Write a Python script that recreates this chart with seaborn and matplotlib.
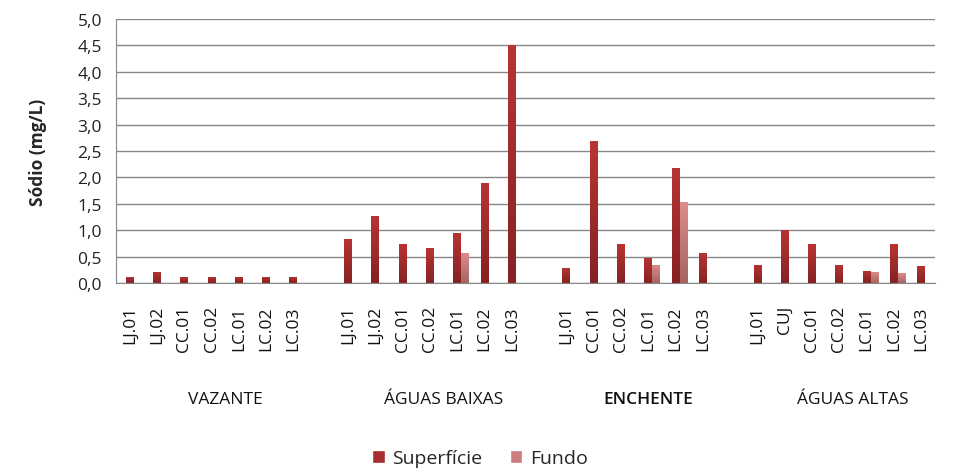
import numpy as np
import pandas as pd
import matplotlib
matplotlib.use("Agg")
import matplotlib.pyplot as plt
from matplotlib.colors import LinearSegmentedColormap
from matplotlib.patches import Patch
from matplotlib import transforms
import seaborn as sns

# ---------------- data ----------------
groups = ["VAZANTE", "ÁGUAS BAIXAS", "ENCHENTE", "ÁGUAS ALTAS"]
stations_vazante = ["LJ.01", "LJ.02", "CC.01", "CC.02", "LC.01", "LC.02", "LC.03"]
stations_baixas = ["LJ.01", "LJ.02", "CC.01", "CC.02", "LC.01", "LC.02", "LC.03"]
stations_enchente = ["LJ.01", "CC.01", "CC.02", "LC.01", "LC.02", "LC.03"]
stations_altas = ["LJ.01", "CUJ", "CC.01", "CC.02", "LC.01", "LC.02", "LC.03"]

sup_vazante = [0.12, 0.21, 0.12, 0.12, 0.12, 0.12, 0.12]
sup_baixas = [0.84, 1.27, 0.73, 0.67, 0.95, 1.90, 4.50]
sup_enchente = [0.29, 2.68, 0.73, 0.48, 2.18, 0.56]
sup_altas = [0.35, 1.01, 0.73, 0.35, 0.23, 0.73, 0.33]

fun_vazante = [np.nan] * 7
fun_baixas = [np.nan, np.nan, np.nan, np.nan, 0.56, np.nan, np.nan]
fun_enchente = [np.nan, np.nan, np.nan, 0.35, 1.53, np.nan]
fun_altas = [np.nan, np.nan, np.nan, np.nan, 0.20, 0.18, np.nan]

yticks = [0.0, 0.5, 1.0, 1.5, 2.0, 2.5, 3.0, 3.5, 4.0, 4.5, 5.0]

stations = [stations_vazante, stations_baixas, stations_enchente, stations_altas]
sup = [sup_vazante, sup_baixas, sup_enchente, sup_altas]
fun = [fun_vazante, fun_baixas, fun_enchente, fun_altas]

# build table: one empty slot after each group except the last
rows = []
slot_keys, slot_labels, slot_group = [], [], []
for gi, g in enumerate(groups):
    for st, s, f in zip(stations[gi], sup[gi], fun[gi]):
        key = f"{g}|{st}"
        slot_keys.append(key); slot_labels.append(st); slot_group.append(gi)
        rows.append((key, "Superficie", s))
        rows.append((key, "Fundo", f))
    if gi < len(groups) - 1:
        key = f"{g}|gap"
        slot_keys.append(key); slot_labels.append(""); slot_group.append(gi)
        rows.append((key, "Superficie", np.nan))
df = pd.DataFrame(rows, columns=["slot", "serie", "valor"])

# ---------------- style ----------------
sns.set_style("white")
plt.rcParams["font.family"] = ["Open Sans", "DejaVu Sans"]

fig = plt.figure(figsize=(9.6, 4.77), dpi=100)
ax = fig.add_axes([116 / 960, 1 - 284 / 477, (935 - 116) / 960, (284 - 20) / 477])

sup_col = "#A82E2E"
fun_col = "#CC7D7D"
sns.barplot(data=df, x="slot", y="valor", hue="serie", order=slot_keys,
            hue_order=["_pad", "Superficie", "Fundo"],
            palette={"_pad": "white", "Superficie": sup_col, "Fundo": fun_col},
            width=0.87, dodge=True, errorbar=None, legend=False, ax=ax,
            linewidth=0, saturation=1)

# gradient fill on bars
cmaps = {
    "sup": LinearSegmentedColormap.from_list("s", ["#862222", "#B83434"]),
    "fun": LinearSegmentedColormap.from_list("f", ["#A66464", "#DB8C8C"]),
}
grad = np.linspace(0, 1, 64).reshape(-1, 1)
for bar in list(ax.patches):
    h = bar.get_height()
    if not np.isfinite(h) or h <= 0:
        continue
    x0 = bar.get_x(); w = bar.get_width()
    fc = bar.get_facecolor()
    kind = "sup" if fc[1] < 0.35 else "fun"
    im = ax.imshow(grad, extent=[x0, x0 + w, 0, h], origin="lower", aspect="auto",
                   cmap=cmaps[kind], zorder=bar.get_zorder() + 0.1)
    im.set_clip_path(bar)

ax.set_xlim(-0.5, len(slot_keys) - 0.5)
ax.set_ylim(0, 5)
ax.set_yticks(yticks)
ax.set_yticklabels([f"{v:.1f}".replace(".", ",") for v in yticks])
ax.set_xticks(range(len(slot_keys)))
ax.set_xticklabels(slot_labels, rotation=90, va="top", ha="center")

ax.grid(axis="y", color="#888888", linewidth=1)
ax.set_axisbelow(True)
for sp in ["top", "right"]:
    ax.spines[sp].set_visible(False)
ax.spines["left"].set_color("#888888")
ax.spines["bottom"].set_color("#888888")
ax.tick_params(axis="y", length=6, color="#888888", labelsize=12.5, pad=4, labelcolor="#222222")
ax.tick_params(axis="x", length=0, labelsize=12.5, pad=16, labelcolor="#111111")
ax.set_xlabel("")
ax.set_ylabel("Sódio (mg/L)", fontsize=12.5, fontweight="bold", labelpad=22)

# group labels
trans = transforms.blended_transform_factory(ax.transData, fig.transFigure)
slot_group = np.array(slot_group)
for gi, g in enumerate(groups):
    idx = np.where(slot_group == gi)[0]
    ax.text(idx.mean() + (0.5 if gi == len(groups) - 1 else 0), 1 - 400 / 477, g,
            transform=trans, ha="center", va="center", fontsize=12.5, color="#111111",
            fontweight="semibold" if g == "ENCHENTE" else "normal")

handles = [Patch(facecolor=sup_col, label="Superfície"), Patch(facecolor=fun_col, label="Fundo")]
fig.legend(handles=handles, loc="center", bbox_to_anchor=(0.5, 1 - 459 / 477), ncol=2,
           frameon=False, fontsize=14, handlelength=0.65, handleheight=0.65,
           handletextpad=0.4, columnspacing=1.4)

fig.savefig("out.png", dpi=100)
